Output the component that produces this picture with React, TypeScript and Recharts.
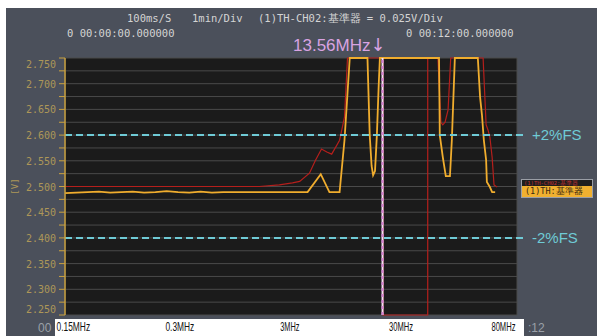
import { LineChart, Line, XAxis, YAxis, CartesianGrid, ReferenceLine } from "recharts";

// sweep time in divisions (1 min/Div, 12 div), voltage in V
const yellowTime = [
  0, 0.3, 0.6, 0.9, 1.2, 1.5, 1.8, 2.1, 2.4, 2.7, 3.0, 3.3, 3.6, 3.9, 4.2, 4.5, 5.0, 5.5, 6.0,
  6.44, 6.79, 7.02, 7.29, 7.42, 7.56, 8.03, 8.09, 8.14, 8.18, 8.23, 8.28, 8.33, 8.36,
  9.93, 9.95, 10.03, 10.11, 10.22, 10.27, 10.35, 10.96, 11.02, 11.07, 11.12, 11.18, 11.2,
  11.28, 11.34, 11.42,
];
const yellowVolt = [
  2.487, 2.488, 2.489, 2.49, 2.488, 2.489, 2.49, 2.488, 2.489, 2.491, 2.489, 2.488, 2.49, 2.488,
  2.489, 2.489, 2.489, 2.489, 2.489, 2.489, 2.524, 2.489, 2.489, 2.59, 2.75, 2.75, 2.6, 2.54,
  2.522, 2.53, 2.6, 2.7, 2.75, 2.75, 2.6, 2.557, 2.52, 2.52, 2.59, 2.75, 2.75, 2.674, 2.639,
  2.59, 2.552, 2.509, 2.499, 2.489, 2.489,
];
const redTime = [
  0, 2.0, 4.0, 5.16, 5.69, 6.04, 6.23, 6.49, 6.65, 6.81, 6.95, 7.08, 7.29, 7.42, 7.5, 8.44,
  8.44, 9.63, 9.63, 9.9, 9.98, 10.03, 10.09, 10.17, 10.24, 11.1, 11.18, 11.23, 11.28, 11.34,
  11.39, 11.47,
];
const redVolt = [
  2.5, 2.5, 2.5, 2.5, 2.503, 2.507, 2.51, 2.526, 2.551, 2.573, 2.567, 2.563, 2.59, 2.635, 2.75,
  2.75, 2.25, 2.25, 2.75, 2.75, 2.625, 2.62, 2.625, 2.649, 2.75, 2.75, 2.62, 2.61, 2.596, 2.557,
  2.503, 2.499,
];

const divisions = [0, 1, 2, 3, 4, 5, 6, 7, 8, 9, 10, 11, 12];
const voltTicks = [
  2.25, 2.275, 2.3, 2.325, 2.35, 2.375, 2.4, 2.425, 2.45, 2.475, 2.5, 2.525, 2.55, 2.575, 2.6,
  2.625, 2.65, 2.675, 2.7, 2.725, 2.75,
];
const freqPos = [0.22, 3.05, 5.97, 8.92, 11.64];
const freqLabels = ["0.15MHz", "0.3MHz", "3MHz", "30MHz", "80MHz"];
const markerPos = 8.43;
const limitVolts = [2.6, 2.4];
const limitLabels = ["+2%FS", "-2%FS"];

const yellowData = yellowTime.map((t, i) => ({ t, v: yellowVolt[i] }));
const redData = redTime.map((t, i) => ({ t, v: redVolt[i] }));

const GOLD = "#c9a040";
const MONO = "'DejaVu Sans Mono', monospace";

function VoltTick(props: any) {
  const { x, y, payload } = props;
  const v = payload.value;
  if (Math.round(v * 1000) % 50 !== 0) return null;
  let dy = 4;
  if (v >= 2.749) dy = 10;
  if (v <= 2.251) dy = -2;
  return (
    <text x={x} y={y + dy} textAnchor="end" fill="#ad9758" fontSize={10} fontFamily={MONO}>
      {v.toFixed(3)}
    </text>
  );
}

function FreqTick(props: any) {
  const { x, y, payload } = props;
  const label = freqLabels[freqPos.indexOf(payload.value)] || "";
  return (
    <text
      x={x}
      y={y + 16}
      textAnchor="middle"
      fill="#111"
      fontSize={13}
      fontFamily="'Liberation Sans', sans-serif"
      textLength={label.length * 4.8}
      lengthAdjust="spacingAndGlyphs"
    >
      {label}
    </text>
  );
}

function AxisName(props: any) {
  const { viewBox } = props;
  const cx = viewBox.x + 6;
  const cy = viewBox.y + viewBox.height / 2;
  return (
    <text
      x={cx}
      y={cy}
      transform={`rotate(-90 ${cx} ${cy})`}
      textAnchor="middle"
      dominantBaseline="central"
      fill="#ad9758"
      fontSize={9}
      fontFamily={MONO}
    >
      [V]
    </text>
  );
}

const topText: React.CSSProperties = {
  position: "absolute",
  color: "#d4d4d4",
  fontFamily: MONO,
  fontSize: 10.5,
  whiteSpace: "pre",
  lineHeight: "12px",
};

export default function App() {
  return (
    <div style={{ position: "absolute", left: 0, top: 0, width: 597, height: 336, background: "#fff", overflow: "hidden" }}>
      <div style={{ position: "absolute", left: 6, top: 8, width: 591, height: 328, background: "#4b505b" }} />
      <div style={{ ...topText, left: 127, top: 12 }}>100ms/S</div>
      <div style={{ ...topText, left: 192, top: 12 }}>1min/Div</div>
      <div style={{ ...topText, left: 258, top: 12 }}>(1)TH-CH02:基準器 = 0.025V/Div</div>
      <div style={{ ...topText, left: 67, top: 27 }}>0 00:00:00.000000</div>
      <div style={{ ...topText, left: 406, top: 27 }}>0 00:12:00.000000</div>
      <div
        style={{
          position: "absolute",
          left: 293,
          top: 35,
          color: "#d9a3e2",
          fontFamily: "'Liberation Sans', sans-serif",
          fontSize: 17,
          lineHeight: "20px",
          whiteSpace: "pre",
        }}
      >
        13.56MHz<span style={{ fontFamily: "'DejaVu Sans', sans-serif", fontSize: 18 }}>↓</span>
      </div>
      <div style={{ position: "absolute", left: 55, top: 319, width: 469, height: 17, background: "#fff" }} />
      <div style={{ ...topText, left: 38, top: 322, color: "#9aa0a8", fontFamily: "'Liberation Sans', sans-serif", fontSize: 12 }}>00</div>
      <div style={{ ...topText, left: 528, top: 322, color: "#9aa0a8", fontFamily: "'Liberation Sans', sans-serif", fontSize: 12 }}>:12</div>

      <div style={{ position: "absolute", left: 0, top: 0 }}>
        <LineChart width={597} height={336} margin={{ top: 58, right: 80, left: 9, bottom: 0 }}>
          <CartesianGrid stroke="#4a4a4a" fill="#1b1b1b" fillOpacity={1} />
          <XAxis
            dataKey="t"
            type="number"
            domain={[0, 12]}
            ticks={divisions}
            tick={false}
            tickLine={false}
            axisLine={false}
            height={0}
          />
          <XAxis
            xAxisId="freq"
            dataKey="t"
            type="number"
            domain={[0, 12]}
            ticks={freqPos}
            interval={0}
            tick={<FreqTick />}
            tickLine={false}
            axisLine={false}
            tickSize={0}
            tickMargin={0}
            height={21}
          />
          <YAxis
            type="number"
            domain={[2.25, 2.75]}
            ticks={voltTicks}
            interval={0}
            width={56}
            tick={<VoltTick />}
            tickSize={6}
            tickMargin={3}
            stroke={GOLD}
            axisLine={{ stroke: GOLD, strokeWidth: 1.5 }}
            tickLine={{ stroke: GOLD }}
            label={<AxisName />}
          />
          <Line
            data={redData}
            xAxisId="freq"
            dataKey="v"
            type="linear"
            stroke="#b51f1c"
            strokeWidth={1.2}
            dot={false}
            isAnimationActive={false}
          />
          <Line
            data={yellowData}
            dataKey="v"
            type="linear"
            stroke="#f0ad2e"
            strokeWidth={1.8}
            dot={false}
            isAnimationActive={false}
          />
          {limitVolts.map((v, i) => (
            <ReferenceLine
              key={v}
              segment={[
                { x: 0, y: v },
                { x: 12.16, y: v },
              ]}
              ifOverflow="visible"
              stroke="#6fcbd6"
              strokeWidth={2}
              strokeDasharray="7 4"
              label={{
                value: limitLabels[i],
                position: "right",
                offset: 9,
                fill: "#6fcbd6",
                fontSize: 15,
                fontFamily: "'Liberation Sans', sans-serif",
              }}
            />
          ))}
          <ReferenceLine x={markerPos} stroke="#f2dcf2" strokeWidth={2} />
          <ReferenceLine x={markerPos} stroke="#d784d4" strokeWidth={2} strokeDasharray="3 3" />
        </LineChart>
      </div>

      <div
        style={{
          position: "absolute",
          left: 521,
          top: 179,
          width: 70,
          height: 17,
          border: "1px solid #9a9ea6",
          background: "#f0b030",
          overflow: "hidden",
        }}
      >
        <div style={{ height: 6, background: "#1e1e1e", overflow: "hidden" }}>
          <div style={{ color: "#c03030", fontFamily: MONO, fontSize: 5.5, lineHeight: "6px", paddingLeft: 2, whiteSpace: "pre" }}>
            (1)TH-CH02:基準器
          </div>
        </div>
        <div style={{ color: "#3a2a10", fontFamily: MONO, fontSize: 8.5, lineHeight: "11px", paddingLeft: 3, whiteSpace: "pre" }}>
          (1)TH:基準器
        </div>
      </div>
    </div>
  );
}
